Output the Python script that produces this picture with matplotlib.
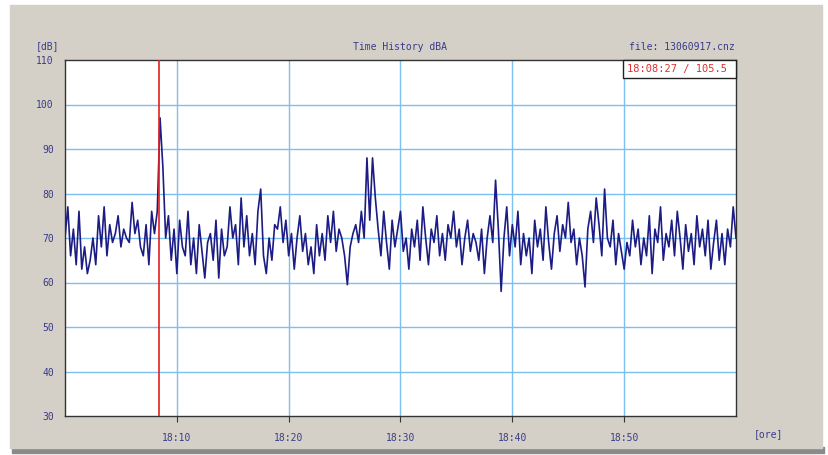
import numpy as np
import matplotlib.pyplot as plt
from matplotlib.patches import Rectangle

# Level readings (dBA), one every 15 s from 18:00 to 19:00
levels = [
    70, 77, 66, 72, 64, 76, 63, 68,
    62, 65, 70, 64, 75, 68, 77, 66,
    73, 69, 71, 75, 68, 72, 70, 69,
    78, 71, 74, 68, 66, 73, 64, 76,
    71, 76, 97, 86, 70, 75, 65, 72,
    62, 74, 68, 66, 76, 64, 70, 62,
    73, 67, 61, 69, 71, 65, 74, 61,
    72, 66, 68, 77, 70, 73, 64, 79,
    68, 75, 66, 71, 64, 76, 81, 66,
    62, 70, 65, 73, 72, 77, 69, 74,
    66, 71, 63, 70, 75, 67, 71, 64,
    68, 62, 73, 66, 71, 65, 75, 69,
    76, 67, 72, 70, 66, 59.5, 68, 71,
    73, 69, 76, 70, 88, 74, 88, 79,
    72, 66, 76, 69, 63, 74, 68, 72,
    76, 67, 70, 63, 72, 68, 74, 65,
    77, 70, 64, 72, 69, 75, 66, 71,
    65, 73, 70, 76, 68, 72, 64, 70,
    74, 67, 71, 69, 65, 72, 62, 70,
    75, 69, 83, 72, 58, 70, 77, 66,
    73, 68, 76, 64, 71, 66, 70, 62,
    74, 68, 72, 65, 77, 69, 63, 71,
    75, 67, 73, 70, 78, 69, 72, 64,
    70, 66, 59, 72, 76, 69, 79, 73,
    66, 81, 70, 68, 74, 64, 71, 67,
    63, 69, 66, 74, 68, 72, 64, 70,
    66, 75, 62, 72, 69, 77, 65, 71,
    68, 74, 66, 76, 70, 63, 73, 67,
    71, 64, 75, 68, 72, 66, 74, 63,
    69, 74, 65, 71, 64, 72, 68, 77,
    70,
]
minutes = np.arange(len(levels)) * 0.25

y_ticks = [30, 40, 50, 60, 70, 80, 90, 100, 110]
x_ticks = [10, 20, 30, 40, 50]
x_labels = ["18:10", "18:20", "18:30", "18:40", "18:50"]
cursor_min = 8 + 27 / 60
cursor_text = "18:08:27 / 105.5"

navy = "#1c1c84"
label_col = "#3a3a8a"
grid_col = "#7cc0f0"
mono = "DejaVu Sans Mono"

fig = plt.figure(figsize=(8.29, 4.55), dpi=100, facecolor="white")

# grey window panel with a shadow under it
fig.patches.append(Rectangle((12 / 829, 1 - 453 / 455), 812 / 829, 6 / 455,
                             transform=fig.transFigure, color="#8a8a8a", zorder=-2))
fig.patches.append(Rectangle((10 / 829, 1 - 448 / 455), 812 / 829, 443 / 455,
                             transform=fig.transFigure, color="#d4d0c8", zorder=-1))

ax = fig.add_axes([65 / 829, 39 / 455, 671 / 829, 356 / 455])
ax.set_zorder(1)
ax.set_facecolor("white")
ax.set_xlim(0, 60)
ax.set_ylim(30, 110)

for v in y_ticks[1:-1]:
    ax.axhline(v, color=grid_col, lw=1, zorder=1)
for v in x_ticks:
    ax.axvline(v, color=grid_col, lw=1, zorder=1)

ax.plot(minutes, levels, color=navy, lw=1.2, zorder=3)
ax.axvline(cursor_min, color="#e02020", lw=1.2, zorder=4)

ax.set_yticks(y_ticks)
ax.set_yticklabels([str(v) for v in y_ticks], family=mono, fontsize=7, color=label_col)
ax.set_xticks(x_ticks)
ax.set_xticklabels(x_labels, family=mono, fontsize=7, color=label_col)
ax.tick_params(axis="y", length=0, pad=8)
ax.tick_params(axis="x", length=4, direction="out", pad=8, color="#333333")
for s in ax.spines.values():
    s.set_color("#333333")
    s.set_linewidth(1)

fig.text(48 / 829, 1 - 46 / 455, "[dB]", family=mono, fontsize=7, color=label_col,
         ha="center", va="center")
fig.text(400 / 829, 1 - 47 / 455, "Time History dBA", family=mono, fontsize=7,
         color=label_col, ha="center", va="center")
fig.text(735 / 829, 1 - 47 / 455, "file: 13060917.cnz", family=mono, fontsize=7,
         color=label_col, ha="right", va="center")
fig.text(768 / 829, 1 - 434 / 455, "[ore]", family=mono, fontsize=7, color=label_col,
         ha="center", va="center")

# cursor readout box in the upper right corner
ax.add_patch(Rectangle((623 / 829, 1 - 78 / 455), 113 / 829, 18 / 455,
                       transform=fig.transFigure, facecolor="white",
                       edgecolor="#222222", lw=1, zorder=5, clip_on=False))
fig.text(627 / 829, 1 - 69 / 455, cursor_text, family=mono, fontsize=7.5,
         color="#e03030", ha="left", va="center", zorder=6)

fig.savefig("out.png", dpi=100, facecolor="white")
